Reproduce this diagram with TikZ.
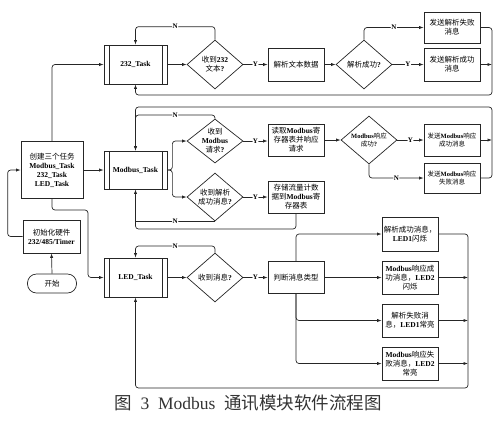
\documentclass[tikz,border=0pt]{standalone}
\usepackage{fontspec}
\setmainfont{Liberation Serif}
\newfontfamily\cjk{Noto Sans CJK SC}
\newcommand\zh[1]{{\cjk\mdseries #1}}
\usetikzlibrary{shapes.geometric,arrows.meta}
\newcommand\boxfont{\fontsize{7.5}{9}\selectfont\bfseries}
\newcommand\smallboxfont{\fontsize{6.5}{8.5}\selectfont\bfseries}
\begin{document}
\begin{tikzpicture}[x=1pt,y=-1pt,
  line width=0.7pt, draw=black!85,
  box/.style={draw, fill=white, minimum width=56pt, minimum height=33pt, inner sep=1pt, align=center, font=\boxfont},
  taskbox/.style={box, minimum width=63pt, minimum height=39pt,
    path picture={\draw ([xshift=5pt]path picture bounding box.north west) -- ([xshift=5pt]path picture bounding box.south west)
      ([xshift=-5pt]path picture bounding box.north east) -- ([xshift=-5pt]path picture bounding box.south east);}},
  dia/.style={draw, diamond, minimum width=56pt, minimum height=49pt, inner sep=0pt},
  dtxt/.style={align=center, font=\boxfont, inner sep=0pt},
  startbox/.style={draw, rounded corners=9pt, minimum width=49pt, minimum height=19pt, font=\boxfont, inner sep=1pt},
  lbl/.style={fill=white, inner sep=0.6pt, font=\fontsize{7}{8}\selectfont\bfseries},
  arr/.style={draw, -{Latex[length=4.5pt,width=3.2pt]}, rounded corners=3pt},
  ln/.style={draw, rounded corners=3pt}]
\useasboundingbox (0,0) rectangle (500,424);

% ---------- left column ----------
\node[box, minimum width=62pt, minimum height=57pt] (c) at (52,170)
  {\zh{创建三个任务}\\Modbus\_Task\\232\_Task\\LED\_Task};
\node[box, minimum width=57pt, minimum height=33pt] (i) at (51.5,236.5)
  {\zh{初始化硬件}\\232/485/Timer};
\node[startbox] (s) at (52,283.5) {\zh{开始}};

% ---------- task boxes ----------
\node[taskbox] (t232) at (135.5,64.5) {232\_Task};
\node[taskbox, minimum height=38pt] (tmod) at (135.5,170) {Modbus\_Task};
\node[taskbox] (led) at (135.5,277.5) {LED\_Task};

% ---------- 232 row ----------
\node[dia] (d232) at (215,64.5) {};
\node[dtxt] at (d232) {\zh{收到}232\\\zh{文本}?};
\node[box] (p1) at (296,64.5) {\zh{解析文本数据}};
\node[dia] (d2) at (364,64.5) {};
\node[dtxt] at (d2) {\zh{解析成功}?};
\node[box] (p2) at (452,64.5) {\zh{发送解析成功}\\\zh{消息}};
\node[box, minimum height=31pt] (p3) at (452,27.5) {\zh{发送解析失败}\\\zh{消息}};
\coordinate (r232) at (492,95);

\draw[arr] (c.north) |- (t232.west);
\draw[arr] (t232.east) -- (d232.west);
\draw[arr] (d232.north) -- ++(0,-13) -| node[lbl,pos=0.25]{N} (t232.north);
\draw[arr] (d232.east) -- node[lbl]{Y} (p1.west);
\draw[arr] (p1.east) -- (d2.west);
\draw[arr] (d2.east) -- node[lbl]{Y} (p2.west);
\draw[arr] (d2.north) |- node[lbl,pos=0.75]{N} (p3.west);
\draw[arr] (p3.east) -| (r232) -| (t232.south);
\draw[arr] (p2.east) -- (p2.east -| r232);

% ---------- Modbus row ----------
\node[dia, minimum height=44pt] (dm1) at (215,141) {};
\node[dtxt] at (dm1) {\zh{收到}\\Modbus\\\zh{请求}?};
\node[dia, minimum height=48pt] (dm2) at (215,197) {};
\node[dtxt] at (dm2) {\zh{收到解析}\\\zh{成功消息}?};
\node[box, minimum height=32pt] (pm1) at (296,140) {\zh{读取}Modbus\zh{寄}\\\zh{存器表并响应}\\\zh{请求}};
\node[dia, minimum height=48pt] (dm3) at (369,140) {};
\node[dtxt, font=\smallboxfont] at (dm3) {Modbus\zh{响应}\\\zh{成功}?};
\node[box, minimum height=32pt, font=\smallboxfont] (pm3) at (452,140) {\zh{发送}Modbus\zh{响应}\\\zh{成功消息}};
\node[box, minimum height=30pt, font=\smallboxfont] (pm4) at (452,178) {\zh{发送}Modbus\zh{响应}\\\zh{失败消息}};
\node[box, minimum height=32pt] (pm2) at (296,197) {\zh{存储流量计数}\\\zh{据到}Modbus\zh{寄}\\\zh{存器表}};
\coordinate (rmod) at (492,107);
\coordinate (bmod) at (135.5,229);

\draw[arr] (c.east) -- (tmod.west);
\draw[arr] (tmod.east) -- ++(5,0) |- (dm1.west);
\draw[arr] (tmod.east) -- ++(5,0) |- (dm2.west);
\draw[arr] (dm1.north) -- (215,115) -| node[lbl,pos=0.25]{N} (tmod.north);
\draw[arr] (dm1.east) -- node[lbl]{Y} (dm1.east -| pm1.west);
\draw[arr] (pm1.east) -- (dm3.west);
\draw[arr] (dm3.east) -- node[lbl]{Y} (pm3.west);
\draw[arr] (dm3.south) |- node[lbl,pos=0.75]{N} (pm4.west);
\draw[arr] (pm3.east) -- (pm3.east -| rmod);
\draw[arr] (pm4.east) -| (rmod) -| (tmod.north);
\draw[arr] (dm2.east) -- node[lbl]{Y} (dm2.east -| pm2.west);
\draw[ln] (dm2.south) -- node[lbl]{N} (dm2.south -| bmod);
\draw[arr] (pm2.south) |- (bmod) -- (tmod.south);

% ---------- LED row ----------
\node[dia] (dl) at (215,277.5) {};
\node[dtxt] at (dl) {\zh{收到消息}?};
\node[box, minimum height=32pt] (pl) at (296,277.5) {\zh{判断消息类型}};
\node[box, minimum height=34pt] (o1) at (410,234) {\zh{解析成功消息，}\\LED1\zh{闪烁}};
\node[box] (o2) at (410,277.5) {Modbus\zh{响应成}\\\zh{功消息，}LED2\\\zh{闪烁}};
\node[box] (o3) at (410,320.5) {\zh{解析失败消}\\\zh{息，}LED1\zh{常亮}};
\node[box] (o4) at (410,363.5) {Modbus\zh{响应失}\\\zh{败消息，}LED2\\\zh{常亮}};
\coordinate (rled) at (468,388);

\draw[arr] (s.north) -- (i.south);
\draw[arr] (i.west) -- ++(-15,0) |- (c.west);
\draw[arr] (c.south) |- (88,210) |- (led.west);
\draw[arr] (led.east) -- (dl.west);
\draw[arr] (dl.north) -- (215,246) -| node[lbl,pos=0.25]{N} (led.north);
\draw[arr] (dl.east) -- node[lbl]{Y} (pl.west);
\draw[arr] (pl.north) |- (o1.west);
\draw[arr] (pl.east) -- (o2.west);
\draw[arr] (pl.south) |- (o3.west);
\draw[arr] (pl.south) |- (o4.west);
\draw[arr] (o1.east) -| (rled) -| (led.south);
\draw[arr] (o2.east) -- (o2.east -| rled);
\draw[arr] (o3.east) -- (o3.east -| rled);
\draw[arr] (o4.east) -- (o4.east -| rled);

% ---------- caption ----------
\node[font=\fontsize{17.5}{20}\selectfont, text=black!80, inner sep=0pt] (cap) at (248,403)
  {\zh{图}\enspace 3\enspace Modbus\enspace \zh{通讯模块软件流程图}};
\end{tikzpicture}
\end{document}
